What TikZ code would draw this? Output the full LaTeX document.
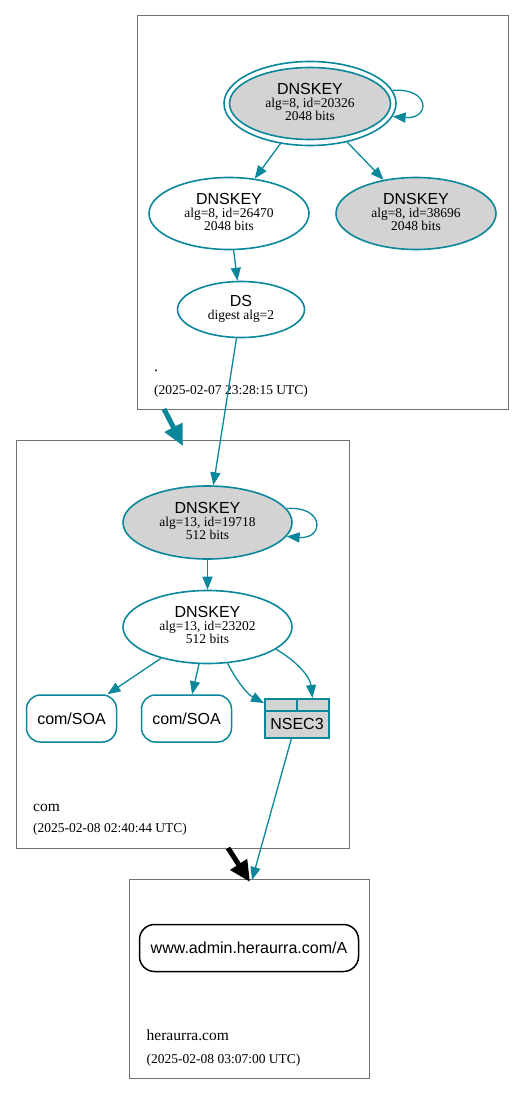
\documentclass[tikz,border=0pt]{standalone}
\usepackage{fontspec}
\setmainfont{Liberation Serif}
\setsansfont{Liberation Sans}
\usetikzlibrary{arrows.meta,shapes.geometric}
\definecolor{teal1}{HTML}{0A879A}
\definecolor{fillg}{HTML}{D3D3D3}
\definecolor{clg}{HTML}{707070}
\newcommand\keytext[3]{{\sffamily\fontsize{16}{13}\selectfont #1}\\#2\\#3}
\newcommand\dstext[2]{{\sffamily\fontsize{16}{13}\selectfont #1}\\#2}
\begin{document}
\begin{tikzpicture}[x=1pt,y=-1pt,
  keynode/.style={ellipse, draw=teal1, line width=1.6pt, inner sep=0pt, align=center,
    text depth=3.5pt, font=\fontsize{13.5}{13}\selectfont},
  outerring/.style={ellipse, draw=teal1, line width=1.6pt, inner sep=0pt},
  rrnode/.style={rectangle, rounded corners=14pt, draw=teal1, line width=1.5pt, inner sep=0pt,
    minimum width=90pt, minimum height=47pt, font=\sffamily\fontsize{16}{18}\selectfont},
  edge/.style={draw=teal1, line width=1.3pt, -{Triangle[length=13pt,width=10pt]}},
  bigedge/.style={line width=5pt, -{Triangle[length=21pt,width=19pt]}},
  cluster/.style={draw=clg, line width=1pt},
  zonename/.style={anchor=base west, inner sep=0pt, font=\fontsize{15.5}{18}\selectfont},
  zonedate/.style={anchor=base west, inner sep=0pt, font=\fontsize{13.5}{16}\selectfont}]
\useasboundingbox (0,0) rectangle (524,1094);

% clusters
\draw[cluster] (137,16) rectangle (508,409);
\draw[cluster] (16,440) rectangle (349,848);
\draw[cluster] (129,879) rectangle (369,1078);

% top zone
\node[outerring, minimum width=172pt, minimum height=84pt] (k1o) at (310,103.5) {};
\node[keynode, fill=fillg, minimum width=161pt, minimum height=72pt] (k1) at (310,103.5)
  {\keytext{DNSKEY}{alg=8, id=20326}{2048 bits}};
\node[keynode, minimum width=160pt, minimum height=72pt] (k2) at (229,213.5)
  {\keytext{DNSKEY}{alg=8, id=26470}{2048 bits}};
\node[keynode, fill=fillg, minimum width=160pt, minimum height=72pt] (k5) at (416,213.5)
  {\keytext{DNSKEY}{alg=8, id=38696}{2048 bits}};
\node[keynode, text depth=4pt, minimum width=127pt, minimum height=56pt] (ds) at (241,309.5)
  {\dstext{DS}{digest alg=2}};
\node[zonename] (n1) at (154,371) {.};
\node[zonedate] (d1) at (154,394) {(2025-02-07 23:28:15 UTC)};

% middle zone
\node[keynode, fill=fillg, minimum width=169pt, minimum height=73pt] (k3) at (207.5,522.5)
  {\keytext{DNSKEY}{alg=13, id=19718}{512 bits}};
\node[keynode, minimum width=169pt, minimum height=73pt] (k4) at (207.5,627)
  {\keytext{DNSKEY}{alg=13, id=23202}{512 bits}};
\node[rrnode] (soa1) at (71.5,718.5) {com/SOA};
\node[rrnode] (soa2) at (186.5,718.5) {com/SOA};
\node[rectangle, draw=teal1, fill=fillg, line width=2pt, inner sep=0pt,
  minimum width=64pt, minimum height=39pt] (ns) at (297,718.5) {};
\draw[teal1, line width=1.6pt] ([yshift=-13pt]ns.north west) -- ([yshift=-13pt]ns.north east);
\draw[teal1, line width=1.6pt] (ns.north) -- ([yshift=-13pt]ns.north);
\node[anchor=base, inner sep=0pt, font=\sffamily\fontsize{16}{18}\selectfont] (nsl) at (297,729) {NSEC3};
\node[zonename] (n2) at (33,811.5) {com};
\node[zonedate] (d2) at (33,832.5) {(2025-02-08 02:40:44 UTC)};

% bottom zone
\node[rectangle, rounded corners=15pt, draw=black, line width=1.5pt, inner sep=0pt,
  minimum width=219pt, minimum height=47pt, font=\sffamily\fontsize{16}{18}\selectfont]
  (www) at (249,948) {www.admin.heraurra.com/A};
\node[zonename] (n3) at (146.5,1040) {heraurra.com};
\node[zonedate] (d3) at (146.5,1063) {(2025-02-08 03:07:00 UTC)};

% coordinates for cluster connectors
\coordinate (t1s) at (164,409);
\coordinate (t1e) at (183,446);
\coordinate (t2s) at (228,848);
\coordinate (t2e) at (250,882);
\coordinate (c3top) at (252,880);

% edges
\draw[edge] (k1o.9) .. controls +(38,-3) and +(38,3) .. (k1o.-9);
\draw[edge] (k1o) -- (k2);
\draw[edge] (k1o) -- (k5);
\draw[edge] (k2) -- (ds);
\draw[edge] (ds) -- (k3);
\draw[edge] (k3.10) .. controls +(38,-3) and +(38,3) .. (k3.-10);
\draw[edge] (k3) -- (k4);
\draw[edge] (k4) -- (soa1);
\draw[edge] (k4) -- (soa2);
\draw[edge] (k4.-61) .. controls (236,680) and (247,694) .. (ns.155);
\draw[edge] (k4.-18) .. controls (295,660) and (310,676) .. (ns.53);
\draw[edge] (ns) -- (c3top);
\draw[bigedge, teal1] (t1s) -- (t1e);
\draw[bigedge, black] (t2s) -- (t2e);
\end{tikzpicture}
\end{document}
